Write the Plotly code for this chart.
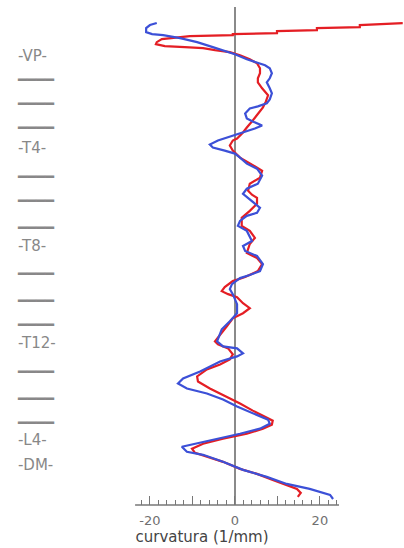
import plotly.graph_objects as go

# Vertebral levels (position along the spine, arbitrary length units from top of plot)
level_labels = ["-VP-", "━━━━", "━━━━", "━━━━", "-T4-", "━━━━", "━━━━", "━━━━", "-T8-",
                "━━━━", "━━━━", "━━━━", "-T12-", "━━━━", "━━━━", "━━━━", "-L4-", "-DM-"]
level_pos = [49, 72, 96, 120, 140, 169, 193, 220, 238, 266, 293, 316, 334, 363, 390, 414, 431, 456]

# Red series: curvature (1/mm) vs position
red_pos = [16, 18, 20, 21, 23, 24, 26, 27, 28, 29, 32, 35, 37, 39, 40, 41, 43, 45, 48, 52,
           56, 61, 66, 71, 75, 81, 88, 94, 100, 107, 113, 120, 125, 131, 133, 138, 143, 150,
           155, 160, 163, 170, 176, 183, 187, 190, 196, 203, 210, 218, 223, 230, 236, 245,
           250, 256, 263, 269, 273, 279, 283, 286, 289, 295, 300, 305, 310, 318, 326, 333,
           336, 340, 346, 351, 356, 361, 368, 373, 380, 388, 395, 402, 408, 412, 416, 420,
           425, 430, 435, 440, 444, 448, 453, 460, 465, 471, 476, 480, 484, 488]
red_curv = [39.5, 29.4, 29.4, 19.3, 19.3, 9.9, 9.9, -0.5, -0.5, -10.6, -17.2, -18.4, -18.6,
            -16.5, -11.8, -7.5, -4.7, -1.2, 1.2, 3.5, 5.2, 5.9, 5.9, 5.4, 5.4, 6.4, 7.8, 7.3,
            6.6, 5.4, 4.2, 2.8, 1.9, 0.5, -0.5, -1.2, -0.5, 1.2, 3.1, 5.2, 6.4, 5.9, 3.5, 3.1,
            4.0, 5.2, 5.2, 3.5, 1.6, 1.6, 3.5, 4.7, 3.5, 2.8, 5.2, 6.4, 5.4, 2.4, -0.5, -2.4,
            -3.1, -1.6, 0.5, 1.9, 3.5, 1.9, -0.5, -1.9, -3.5, -4.7, -4.0, -1.6, -0.5, -1.2,
            -3.5, -6.6, -8.9, -8.7, -5.9, -1.9, 1.2, 4.2, 7.1, 8.9, 8.7, 6.6, 2.8, -2.8, -7.5,
            -10.1, -9.4, -6.6, -2.8, 1.2, 5.2, 8.9, 12.2, 14.6, 15.5, 14.8]

# Blue series
blue_pos = [16, 18, 21, 25, 27, 28, 31, 35, 40, 44, 47, 52, 55, 58, 61, 66, 71, 75, 81, 86,
            92, 96, 99, 101, 106, 111, 114, 118, 121, 126, 129, 133, 137, 140, 143, 146, 150,
            156, 161, 168, 176, 181, 186, 193, 200, 205, 208, 213, 218, 223, 233, 238, 243,
            248, 256, 263, 267, 270, 276, 281, 286, 296, 305, 313, 321, 333, 338, 340, 345,
            348, 353, 363, 370, 375, 380, 385, 391, 398, 405, 411, 415, 420, 425, 430, 435,
            438, 443, 446, 453, 461, 468, 475, 480, 486, 490]
blue_curv = [-18.4, -20.0, -20.9, -20.9, -19.5, -16.9, -12.9, -8.9, -5.2, -2.4, 0.0, 2.8, 5.2,
             7.1, 8.2, 8.7, 8.2, 7.5, 8.2, 8.7, 8.2, 7.5, 5.4, 3.5, 2.4, 2.8, 4.2, 6.4, 4.7,
             1.2, -1.2, -4.0, -5.9, -5.2, -2.4, 0.0, 1.2, 2.8, 5.2, 6.4, 5.4, 2.8, 1.9, 4.0,
             5.9, 5.2, 2.8, 1.2, 0.7, 2.8, 4.0, 1.9, 2.4, 5.2, 6.6, 5.9, 3.5, 1.2, -0.7, -1.2,
             -0.5, 0.5, 0.5, -1.2, -3.1, -4.2, -2.8, 0.5, 1.9, 0.5, -3.5, -8.2, -12.2, -13.4,
             -11.3, -6.6, -2.8, 0.5, 4.2, 7.8, 8.2, 5.9, 1.2, -4.2, -9.9, -12.5, -11.3, -7.5,
             -2.8, 1.9, 7.5, 12.2, 17.6, 22.4, 23.1]

x_tick_vals = [-20, -10, 0, 10, 20]
x_tick_text = ["-20", "", "0", "", "20"]
x_minor_vals = [-22, -18, -16, -14, -12, -8, -6, -4, -2, 2, 4, 6, 8, 12, 14, 16, 18, 22, 24]

fig = go.Figure()
fig.add_trace(go.Scatter(x=red_curv, y=red_pos, mode="lines",
                         line=dict(color="rgb(228,30,36)", width=2.2), showlegend=False))
fig.add_trace(go.Scatter(x=blue_curv, y=blue_pos, mode="lines",
                         line=dict(color="rgb(60,80,215)", width=2.2), showlegend=False))

# bottom axis line limited to the ticked span
fig.add_shape(type="line", xref="x", yref="paper", x0=-23.5, x1=24.5, y0=0, y1=0,
              line=dict(color="#777777", width=1.5))

fig.update_layout(
    width=404, height=548,
    margin=dict(l=0, r=0, t=7, b=43),
    paper_bgcolor="white", plot_bgcolor="white",
    font=dict(family="DejaVu Sans", color="#777777"),
    xaxis=dict(range=[-55.3, 39.8], showgrid=False, showline=False,
               zeroline=True, zerolinecolor="#8a8a8a", zerolinewidth=2,
               tickmode="array", tickvals=x_tick_vals, ticktext=x_tick_text,
               ticks="inside", ticklen=9, tickwidth=1.2, tickcolor="#777777",
               ticklabelstandoff=6,
               tickfont=dict(size=13, color="#707070"),
               minor=dict(tickmode="array", tickvals=x_minor_vals, ticks="inside",
                          ticklen=5, tickwidth=1.2, tickcolor="#777777", showgrid=False),
               title=dict(text="curvatura (1/mm)", standoff=0,
                          font=dict(size=15, color="#444444"))),
    yaxis=dict(range=[496, 0], showgrid=False, showline=False, zeroline=False,
               side="right", anchor="free", position=0.042,
               tickmode="array", tickvals=level_pos, ticktext=level_labels,
               ticks="", tickfont=dict(size=15, color="#888888")),
)

fig.write_html("out.html", config={"displayModeBar": False},
               post_script="document.body.style.margin='0';")
